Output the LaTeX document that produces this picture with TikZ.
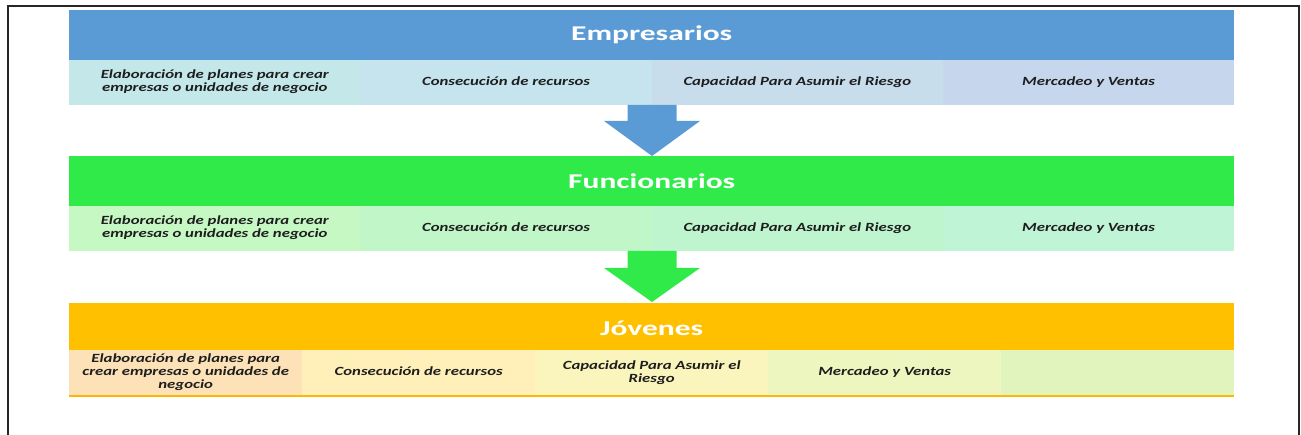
\documentclass[tikz,border=0pt]{standalone}
\usepackage{fontspec}
\usepackage{graphicx}
\setmainfont{Carlito}
\definecolor{bhead}{HTML}{5B9BD5}
\definecolor{bc1}{HTML}{C4E8EA}
\definecolor{bc2}{HTML}{C5E4EE}
\definecolor{bc3}{HTML}{C7DDEC}
\definecolor{bc4}{HTML}{C6D6EC}
\definecolor{ghead}{HTML}{30EA4A}
\definecolor{gc1}{HTML}{C6F8C4}
\definecolor{gc2}{HTML}{C0F6C8}
\definecolor{gc3}{HTML}{BEF5CF}
\definecolor{gc4}{HTML}{BFF4D6}
\definecolor{ohead}{HTML}{FFC000}
\definecolor{oc1}{HTML}{FDE2B8}
\definecolor{oc2}{HTML}{FEF0B8}
\definecolor{oc3}{HTML}{FAF5BC}
\definecolor{oc4}{HTML}{EEF6C0}
\definecolor{oc5}{HTML}{E1F4BE}
\definecolor{txt}{HTML}{1E1E1E}
\newcommand{\hd}[1]{\scalebox{1.5}[1]{\fontsize{21}{24}\selectfont\bfseries #1}}
\newcommand{\ct}[1]{\scalebox{1.34}[1]{\fontsize{12.5}{13}\selectfont\bfseries\itshape\begin{tabular}{@{}c@{}}#1\end{tabular}}}
\tikzset{
  headbox/.style={rectangle, inner sep=0pt, anchor=north west, minimum width=1165pt, minimum height=50pt, text=white},
  cellbox/.style={rectangle, inner sep=0pt, anchor=north west, minimum height=45pt, text=txt}
}
\begin{document}
\begin{tikzpicture}[x=1pt,y=-1pt]
\useasboundingbox (0,0) rectangle (1301,435);
% frame
\draw[line width=1.5pt, color=black!85] (8,436) -- (8,6) -- (1299,6) -- (1299,436);
% Empresarios
\node[headbox, fill=bhead] (h1) at (69,10) {\hd{Empresarios}};
\node[cellbox, fill=bc1, minimum width=291.25pt] (b1) at (69,60) {\ct{Elaboración de planes para crear\\empresas o unidades de negocio}};
\node[cellbox, fill=bc2, minimum width=291.25pt] (b2) at (360.25,60) {\ct{Consecución de recursos}};
\node[cellbox, fill=bc3, minimum width=291.25pt] (b3) at (651.5,60) {\ct{Capacidad Para Asumir el Riesgo}};
\node[cellbox, fill=bc4, minimum width=291.25pt] (b4) at (942.75,60) {\ct{Mercadeo y Ventas}};
% Funcionarios
\node[headbox, fill=ghead] (h2) at (69,156) {\hd{Funcionarios}};
\node[cellbox, fill=gc1, minimum width=291.25pt] (g1) at (69,206) {\ct{Elaboración de planes para crear\\empresas o unidades de negocio}};
\node[cellbox, fill=gc2, minimum width=291.25pt] (g2) at (360.25,206) {\ct{Consecución de recursos}};
\node[cellbox, fill=gc3, minimum width=291.25pt] (g3) at (651.5,206) {\ct{Capacidad Para Asumir el Riesgo}};
\node[cellbox, fill=gc4, minimum width=291.25pt] (g4) at (942.75,206) {\ct{Mercadeo y Ventas}};
% Jovenes
\node[headbox, fill=ohead] (h3) at (69,303) {\hd{Jóvenes}};
\node[cellbox, fill=oc1, minimum width=233pt, minimum height=46pt] (o1) at (69,350) {\raisebox{-2pt}{\ct{Elaboración de planes para\\crear empresas o unidades de\\negocio}}};
\node[cellbox, fill=oc2, minimum width=233pt, minimum height=46pt] (o2) at (302,350) {\ct{Consecución de recursos}};
\node[cellbox, fill=oc3, minimum width=233pt, minimum height=46pt] (o3) at (535,350) {\raisebox{-1pt}{\ct{Capacidad Para Asumir el\\Riesgo}}};
\node[cellbox, fill=oc4, minimum width=233pt, minimum height=46pt] (o4) at (768,350) {\ct{Mercadeo y Ventas}};
\node[cellbox, fill=oc5, minimum width=233pt, minimum height=46pt] (o5) at (1001,350) {};
\draw[ohead!85!orange, line width=2pt] (o1.south west) -- (o5.south east);
% arrows
\coordinate (a1) at (652,105);
\coordinate (t1) at (652,156);
\fill[bhead] ([xshift=-24.5pt]a1) -- ([xshift=24.5pt]a1) -- ([xshift=24.5pt,yshift=-16pt]a1) -- ([xshift=48pt,yshift=-16pt]a1) -- (t1) -- ([xshift=-48pt,yshift=-16pt]a1) -- ([xshift=-24.5pt,yshift=-16pt]a1) -- cycle;
\coordinate (a2) at (652,251);
\coordinate (t2) at (652,302);
\fill[ghead] ([xshift=-24.5pt]a2) -- ([xshift=24.5pt]a2) -- ([xshift=24.5pt,yshift=-17pt]a2) -- ([xshift=48pt,yshift=-17pt]a2) -- (t2) -- ([xshift=-48pt,yshift=-17pt]a2) -- ([xshift=-24.5pt,yshift=-17pt]a2) -- cycle;
\end{tikzpicture}
\end{document}
